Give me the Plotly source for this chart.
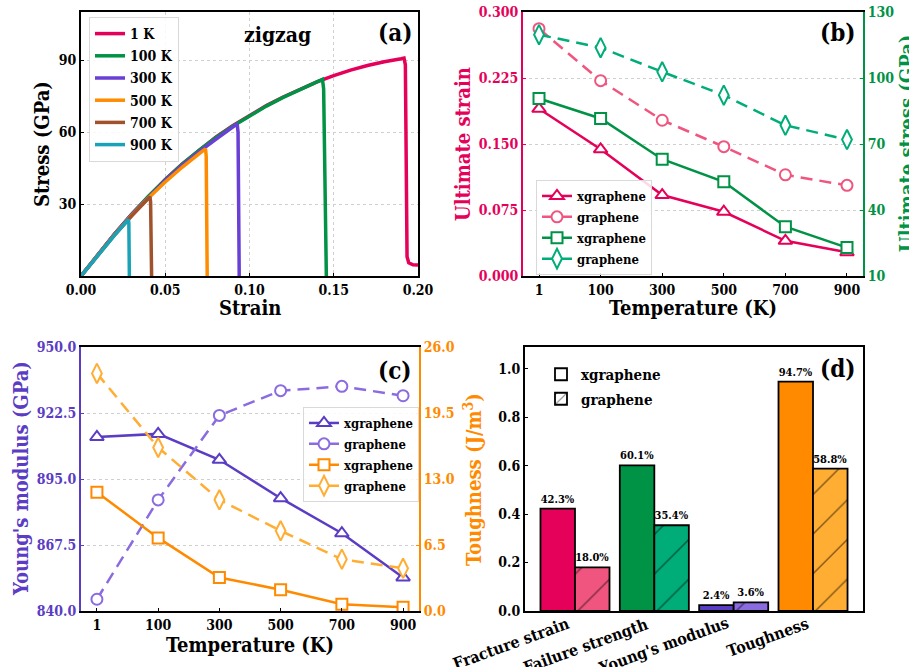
import plotly.graph_objects as go

# ---------------- data ----------------
# (a) stress-strain curves (zigzag)
strain_1K = [0, 0.01, 0.02, 0.03, 0.04, 0.05, 0.06, 0.07, 0.08, 0.09, 0.10, 0.11, 0.12, 0.13,
             0.14, 0.15, 0.16, 0.17, 0.18, 0.19, 0.1917, 0.1925, 0.1930, 0.1935, 0.1945, 0.197, 0.2]
stress_1K = [0, 9.0, 17.6, 25.7, 33.2, 40.2, 46.6, 52.4, 57.8, 62.6, 67.0, 71.0, 74.6, 77.9,
             80.9, 83.5, 85.8, 87.7, 89.3, 90.5, 90.8, 88.0, 30.0, 8.0, 5.5, 4.7, 4.6]
strain_100K = [0, 0.01, 0.02, 0.03, 0.04, 0.05, 0.06, 0.07, 0.08, 0.09, 0.10, 0.11, 0.12, 0.13,
               0.14, 0.1433, 0.1440, 0.1456]
stress_100K = [0, 9.0, 17.6, 25.7, 33.2, 40.1, 46.5, 52.3, 57.6, 62.4, 66.8, 70.8, 74.4, 77.7,
               80.7, 81.9, 78.0, 0]
strain_300K = [0, 0.01, 0.02, 0.03, 0.04, 0.05, 0.06, 0.07, 0.08, 0.09, 0.0927, 0.0932, 0.0939]
stress_300K = [0, 8.9, 17.5, 25.5, 32.9, 39.8, 46.0, 51.7, 56.9, 61.8, 63.4, 60.0, 0]
strain_500K = [0, 0.01, 0.02, 0.03, 0.04, 0.05, 0.06, 0.07, 0.0739, 0.0743, 0.0749]
stress_500K = [0, 8.8, 17.3, 25.2, 32.5, 39.2, 45.3, 50.9, 53.0, 50.0, 0]
strain_700K = [0, 0.01, 0.02, 0.03, 0.04, 0.0409, 0.0413, 0.0419]
stress_700K = [0, 8.8, 17.2, 25.0, 32.3, 33.0, 31.0, 0]
strain_900K = [0, 0.01, 0.02, 0.0281, 0.0284, 0.0287]
stress_900K = [0, 8.7, 17.0, 23.5, 22.0, 0]
temp_names = ["1 K", "100 K", "300 K", "500 K", "700 K", "900 K"]
a_xticks = [0, 0.05, 0.10, 0.15, 0.20]
a_yticks = [30, 60, 90]

# (b), (c) temperature dependence
temps = ["1", "100", "300", "500", "700", "900"]
xg_strain = [0.190, 0.144, 0.092, 0.073, 0.040, 0.027]
g_strain = [0.281, 0.222, 0.177, 0.147, 0.115, 0.103]
xg_stress = [90.7, 81.6, 63.1, 52.8, 32.4, 22.9]
g_stress = [119.7, 113.8, 102.8, 92.2, 78.5, 72.0]
xg_modulus = [912.5, 913.8, 903.0, 887.0, 872.4, 854.0]
g_modulus = [844.9, 886.3, 921.5, 931.8, 933.6, 929.7]
xg_tough = [11.7, 7.2, 3.3, 2.1, 0.66, 0.36]
g_tough = [23.4, 16.1, 10.95, 7.9, 5.1, 4.2]
b_left_ticks = [0, 0.075, 0.150, 0.225, 0.300]
b_right_ticks = [10, 40, 70, 100, 130]
c_left_ticks = [840.0, 867.5, 895.0, 922.5, 950.0]
c_right_ticks = [0.0, 6.5, 13.0, 19.5, 26.0]

# (d) relative reduction
props = ["Fracture strain", "Failure strength", "Young's modulus", "Toughness"]
xg_ratio = [0.423, 0.601, 0.024, 0.947]
g_ratio = [0.180, 0.354, 0.036, 0.588]
d_yticks = [0.0, 0.2, 0.4, 0.6, 0.8, 1.0]

# ---------------- styles ----------------
FONT = "DejaVu Serif Condensed, DejaVu Serif, serif"
PINK, PINK_L = "#E5005A", "#F0557F"
GREEN, GREEN_L = "#009245", "#00AD78"
PURPLE, PURPLE_L = "#5B3CC4", "#8B6BE0"
ORANGE, ORANGE_L = "#FF8A00", "#FFAD33"
curve_colors = ["#E5005A", "#009245", "#6A3FD6", "#FF8C00", "#A0522D", "#1AA3B8"]
W, H = 909, 667


def px(x):
    return x / W


def py(y):
    return 1 - y / H


fig = go.Figure()

# ---- (a)
curves = [(strain_1K, stress_1K), (strain_100K, stress_100K), (strain_300K, stress_300K),
          (strain_500K, stress_500K), (strain_700K, stress_700K), (strain_900K, stress_900K)]
for (sx, sy), name, col in zip(curves, temp_names, curve_colors):
    fig.add_trace(go.Scatter(x=sx, y=sy, mode="lines", name=name, legendgroup=name,
                             line=dict(color=col, width=3.5),
                             xaxis="x", yaxis="y", legend="legend"))

DASH = "12px,7px"


def mk(symbol, col, size=11):
    return dict(symbol=symbol, size=size, color="white", line=dict(color=col, width=2))


# ---- (b)
fig.add_trace(go.Scatter(x=temps, y=xg_strain, name="xgraphene", mode="lines+markers",
                         line=dict(color=PINK, width=2.5), marker=mk("triangle-up", PINK, 12),
                         xaxis="x2", yaxis="y2", legend="legend2", legendgroup="b1"))
fig.add_trace(go.Scatter(x=temps, y=g_strain, name="graphene", mode="lines+markers",
                         line=dict(color=PINK_L, width=2.5, dash=DASH), marker=mk("circle", PINK_L),
                         xaxis="x2", yaxis="y2", legend="legend2", legendgroup="b2"))
fig.add_trace(go.Scatter(x=temps, y=xg_stress, name="xgraphene", mode="lines+markers",
                         line=dict(color=GREEN, width=2.5), marker=mk("square", GREEN),
                         xaxis="x2", yaxis="y3", legend="legend2", legendgroup="b3"))
fig.add_trace(go.Scatter(x=temps, y=g_stress, name="graphene", mode="lines+markers",
                         line=dict(color=GREEN_L, width=2.5, dash=DASH), marker=mk("diamond-tall", GREEN_L, 14),
                         xaxis="x2", yaxis="y3", legend="legend2", legendgroup="b4"))

# ---- (c)
fig.add_trace(go.Scatter(x=temps, y=xg_modulus, name="xgraphene", mode="lines+markers",
                         line=dict(color=PURPLE, width=2.5), marker=mk("triangle-up", PURPLE, 12),
                         xaxis="x3", yaxis="y4", legend="legend3", legendgroup="c1"))
fig.add_trace(go.Scatter(x=temps, y=g_modulus, name="graphene", mode="lines+markers",
                         line=dict(color=PURPLE_L, width=2.5, dash=DASH), marker=mk("circle", PURPLE_L),
                         xaxis="x3", yaxis="y4", legend="legend3", legendgroup="c2"))
fig.add_trace(go.Scatter(x=temps, y=xg_tough, name="xgraphene", mode="lines+markers",
                         line=dict(color=ORANGE, width=2.5), marker=mk("square", ORANGE),
                         xaxis="x3", yaxis="y5", legend="legend3", legendgroup="c3"))
fig.add_trace(go.Scatter(x=temps, y=g_tough, name="graphene", mode="lines+markers",
                         line=dict(color=ORANGE_L, width=2.5, dash=DASH), marker=mk("diamond-tall", ORANGE_L, 14),
                         xaxis="x3", yaxis="y5", legend="legend3", legendgroup="c4"))

# ---- (d)
BW = 0.435
xg_cols = [PINK, GREEN, PURPLE, ORANGE]
g_cols = [PINK_L, GREEN_L, PURPLE_L, ORANGE_L]
BARF = dict(size=11, color="black", family=FONT, weight="bold")
for i in range(len(props)):
    fig.add_trace(go.Bar(x=[props[i]], y=[xg_ratio[i]], width=BW, offset=-BW,
                         marker=dict(color=xg_cols[i], line=dict(color="black", width=1.8)),
                         text=[f"{xg_ratio[i]*100:.1f}%"], textposition="outside",
                         constraintext="none", cliponaxis=False, textfont=BARF,
                         showlegend=False, xaxis="x4", yaxis="y6"))
    fig.add_trace(go.Bar(x=[props[i]], y=[g_ratio[i]], width=BW, offset=0,
                         marker=dict(color=g_cols[i], line=dict(color="black", width=1.8),
                                     pattern=dict(shape="/", fgcolor="black", size=28,
                                                  solidity=0.05, fillmode="overlay")),
                         text=[f"{g_ratio[i]*100:.1f}%"], textposition="outside",
                         constraintext="none", cliponaxis=False, textfont=BARF,
                         showlegend=False, xaxis="x4", yaxis="y6"))
fig.add_trace(go.Bar(x=[None], y=[None], name="xgraphene", legendgroup="d1",
                     marker=dict(color="white", line=dict(color="black", width=1.8)),
                     xaxis="x4", yaxis="y6", legend="legend4"))
fig.add_trace(go.Bar(x=[None], y=[None], name="graphene", legendgroup="d2",
                     marker=dict(color="white", line=dict(color="black", width=1.8),
                                 pattern=dict(shape="/", fgcolor="black", size=9, solidity=0.15,
                                              fillmode="overlay")),
                     xaxis="x4", yaxis="y6", legend="legend4"))

# ---------------- axes ----------------
TICKF = dict(family=FONT, size=14, color="black", weight="bold")


def ax(**kw):
    base = dict(showline=True, linewidth=2, linecolor="black", ticks="inside", ticklen=3,
                tickwidth=1.2, tickcolor="black", zeroline=False, showgrid=False,
                tickfont=dict(TICKF), automargin=False, ticklabeloverflow="allow")
    base.update(kw)
    return base


def tv(vals, fmt):
    return dict(tickvals=vals, ticktext=[format(v, fmt) for v in vals])


GRID = dict(showgrid=True, gridcolor="#cfcfcf", griddash="dot", gridwidth=1)
ya_dom = [py(276), py(12)]
yc_dom = [py(611), py(347)]

layout_axes = dict(
    xaxis=ax(domain=[px(81), px(418)], anchor="y", range=[0, 0.2], mirror=True,
             **tv(a_xticks, ".2f"), **GRID),
    yaxis=ax(domain=ya_dom, anchor="x", range=[0, 110], mirror=True, **tv(a_yticks, "d"), **GRID),
    xaxis2=ax(domain=[px(523), px(863)], anchor="y2", type="category", range=[-0.26, 5.26], mirror=True),
    yaxis2=ax(domain=ya_dom, anchor="x2", range=[0, 0.3], **tv(b_left_ticks, ".3f"),
              linecolor=PINK, tickcolor=PINK, tickfont=dict(TICKF, color=PINK), **GRID),
    yaxis3=ax(anchor="x2", overlaying="y2", side="right", range=[10, 130], **tv(b_right_ticks, "d"),
              linecolor=GREEN, tickcolor=GREEN, tickfont=dict(TICKF, color=GREEN)),
    xaxis3=ax(domain=[px(81), px(419)], anchor="y4", type="category", range=[-0.26, 5.26], mirror=True),
    yaxis4=ax(domain=yc_dom, anchor="x3", range=[840, 950], **tv(c_left_ticks, ".1f"),
              linecolor=PURPLE, tickcolor=PURPLE, tickfont=dict(TICKF, color=PURPLE), **GRID),
    yaxis5=ax(anchor="x3", overlaying="y4", side="right", range=[0, 26], **tv(c_right_ticks, ".1f"),
              linecolor=ORANGE, tickcolor=ORANGE, tickfont=dict(TICKF, color=ORANGE)),
    xaxis4=ax(domain=[px(525), px(863)], anchor="y6", type="category", range=[-0.63, 3.63],
              mirror=True, showticklabels=False, categoryorder="array", categoryarray=props),
    yaxis6=ax(domain=yc_dom, anchor="x4", range=[0, 1.09], mirror=True, **tv(d_yticks, ".1f")),
)

LEGF = dict(family=FONT, size=13, color="black", weight="bold")


def leg(x, y, size=13, border=True, gap=1):
    return dict(x=px(x), y=py(y), xanchor="left", yanchor="top", bgcolor="rgba(255,255,255,0.85)",
                bordercolor="#d9d9d9" if border else "rgba(0,0,0,0)", borderwidth=1,
                font=dict(LEGF, size=size), itemwidth=30, tracegroupgap=gap)


def ann(text, x, y, size=20, color="black", angle=0):
    return dict(text=text, x=px(x), y=py(y), xref="paper", yref="paper", showarrow=False,
                xanchor="center", yanchor="middle", textangle=angle,
                font=dict(family=FONT, size=size, color=color, weight="bold"))


annotations = [
    ann("Stress (GPa)", 42, 144, angle=-90),
    ann("Strain", 250, 308),
    ann("zigzag", 277, 35, size=21),
    ann("(a)", 395, 32, size=24),
    ann("Ultimate strain", 463, 144, color=PINK, angle=-90),
    ann("Ultimate stress (GPa)", 907, 144, color=GREEN, angle=-90),
    ann("Temperature (K)", 693, 308),
    ann("(b)", 838, 32, size=24),
    ann("Young's modulus (GPa)", 21, 479, color=PURPLE, angle=-90),
    ann("Toughness (J/m<sup>3</sup>)", 473, 480, color=ORANGE, angle=-90),
    ann("Temperature (K)", 250, 645),
    ann("(c)", 395, 370, size=24),
    ann("(d)", 838, 368, size=24),
]
# rotated category labels for panel (d), anchored at each category on the x axis
for name in props:
    annotations.append(dict(text=name, x=name, xref="x4", y=py(611), yref="paper",
                            showarrow=False, xanchor="right", yanchor="top", textangle=-20,
                            font=dict(family=FONT, size=16, color="black", weight="bold")))

fig.update_layout(
    width=W, height=H, margin=dict(l=0, r=0, t=0, b=0, autoexpand=False),
    paper_bgcolor="white", plot_bgcolor="white",
    font=dict(family=FONT, color="black", weight="bold"),
    barmode="overlay",
    legend=leg(89, 17, size=14, gap=1),
    legend2=leg(536, 180),
    legend3=leg(303, 407),
    legend4=leg(540, 357, size=15, border=False, gap=2),
    annotations=annotations,
)
fig.update_layout(**layout_axes)

fig.write_html("out.html", config={"displayModeBar": False},
               post_script="document.body.style.margin='0px';")
